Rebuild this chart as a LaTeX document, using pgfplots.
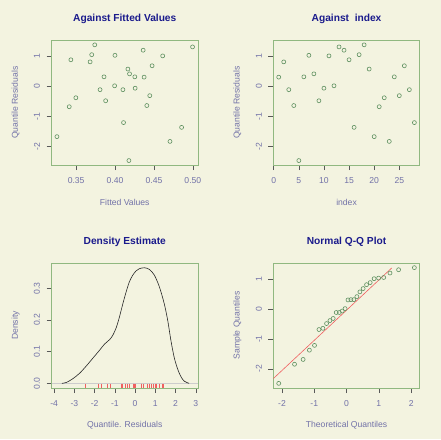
\documentclass[border=0pt]{standalone}
\usepackage{pgfplots}
\pgfplotsset{compat=1.18}
\usepackage{fontspec}
\setmainfont{Liberation Sans}
\definecolor{bgc}{HTML}{F3F3E0}
\definecolor{framec}{HTML}{90B880}
\definecolor{titlec}{HTML}{1A1A8C}
\definecolor{labc}{HTML}{7272A8}
\definecolor{ptc}{HTML}{5F9060}
\definecolor{rugc}{HTML}{F06060}
\pgfplotsset{
  rpanel/.style={
    scale only axis, width=146.5pt, height=125pt, anchor=south west,
    axis line style={framec, line width=0.9pt},
    tick align=outside, major tick length=5pt,
    xtick pos=bottom, ytick pos=left,
    tick style={color=black!65, line width=0.5pt},
    /pgf/number format/assume math mode=true,
    ticklabel style={font=\fontsize{8.6}{10}\selectfont, text=labc},
    xticklabel style={anchor=center}, xticklabel shift=10.5pt,
    yticklabel style={anchor=center, rotate=90}, yticklabel shift=9.5pt,
    label style={font=\fontsize{8.6}{10}\selectfont, text=labc},
    xlabel style={at={(axis description cs:0.5,-0.30)}, anchor=center},
    ylabel style={at={(axis description cs:-0.245,0.5)}, anchor=center},
    title style={at={(axis description cs:0.5,1.12)}, anchor=center,
      font=\fontsize{10.2}{12}\bfseries\selectfont, text=titlec},
    clip=true,
  },
  rpts/.style={only marks, mark=o, mark size=2pt, color=ptc, mark options={draw=ptc, line width=0.6pt}},
}
\begin{document}
\begin{tikzpicture}
\fill[bgc] (0,0) rectangle (441pt,439pt);
\useasboundingbox (0,0) rectangle (441pt,439pt);
% Panel 1
\begin{axis}[rpanel, at={(51.5pt,273.8pt)},
  title={Against Fitted Values}, xlabel={Fitted Values}, ylabel={Quantile Residuals},
  xmin=0.3183, xmax=0.5066, ymin=-2.635, ymax=1.545,
  xtick={0.35,0.40,0.45,0.50}, ytick={-2,-1,0,1},
  xticklabel style={/pgf/number format/.cd, fixed, fixed zerofill, precision=2},
]
\addplot[rpts] coordinates {
(0.3253,-1.68) (0.3432,0.89) (0.3411,-0.68) (0.3496,-0.38) (0.3679,0.82)
(0.3700,1.06) (0.3739,1.39) (0.3858,0.32) (0.3807,-0.11) (0.3879,-0.48)
(0.3999,1.04) (0.3994,0.02) (0.4101,-0.11) (0.4109,-1.21) (0.4165,0.58)
(0.4186,0.42) (0.4178,-2.48) (0.4254,0.32) (0.4258,-0.06) (0.4361,1.21)
(0.4373,0.31) (0.4408,-0.64) (0.4446,-0.31) (0.4476,0.69) (0.4612,1.02)
(0.4706,-1.84) (0.4855,-1.37) (0.4996,1.32)
};
\end{axis}
% Panel 2
\begin{axis}[rpanel, at={(273.3pt,273.8pt)},
  title={Against\ \ index}, xlabel={index}, ylabel={Quantile Residuals},
  xmin=-0.08, xmax=29.08, ymin=-2.635, ymax=1.545,
  xtick={0,5,10,15,20,25}, ytick={-2,-1,0,1},
]
\addplot[rpts] coordinates {
(1,0.31) (2,0.82) (3,-0.11) (4,-0.64) (5,-2.48) (6,0.32) (7,1.04)
(8,0.42) (9,-0.48) (10,-0.06) (11,1.02) (12,0.02) (13,1.32) (14,1.21)
(15,0.89) (16,-1.37) (17,1.06) (18,1.39) (19,0.58) (20,-1.68) (21,-0.68)
(22,-0.38) (23,-1.84) (24,0.32) (25,-0.31) (26,0.69) (27,-0.11) (28,-1.21)
};
\end{axis}
% Panel 3
\begin{axis}[rpanel, at={(51.5pt,51pt)},
  title={Density Estimate}, xlabel={Quantile. Residuals}, ylabel={Density},
  xmin=-4.13, xmax=3.11, ymin=-0.0146, ymax=0.380,
  xtick={-4,-3,-2,-1,0,1,2,3}, ytick={0,0.1,0.2,0.3},
  yticklabel style={/pgf/number format/.cd, fixed, fixed zerofill, precision=1},
]
\addplot[gray!40, line width=0.5pt] coordinates {(-4.13,0) (3.11,0)};
\addplot[only marks, mark=|, mark size=2.2pt, color=rugc, mark options={draw=rugc, line width=0.5pt}] coordinates {
(0.31,-0.008) (0.82,-0.008) (-0.11,-0.008) (-0.64,-0.008) (-2.48,-0.008) (0.32,-0.008) (1.04,-0.008)
(0.42,-0.008) (-0.48,-0.008) (-0.06,-0.008) (1.02,-0.008) (0.02,-0.008) (1.32,-0.008) (1.21,-0.008)
(0.89,-0.008) (-1.37,-0.008) (1.06,-0.008) (1.39,-0.008) (0.58,-0.008) (-1.68,-0.008) (-0.68,-0.008)
(-0.38,-0.008) (-1.84,-0.008) (0.32,-0.008) (-0.31,-0.008) (0.69,-0.008) (-0.11,-0.008) (-1.21,-0.008)
};
\addplot[black!85, line width=0.6pt, smooth] coordinates {
(-3.62,0.000) (-3.39,0.003) (-3.07,0.015) (-2.74,0.032) (-2.41,0.055)
(-2.08,0.080) (-1.75,0.105) (-1.51,0.124) (-1.26,0.138) (-1.10,0.152)
(-0.93,0.176) (-0.77,0.210) (-0.61,0.250) (-0.44,0.289) (-0.28,0.321)
(-0.11,0.342) (0.05,0.355) (0.21,0.362) (0.46,0.365) (0.70,0.360)
(0.95,0.342) (1.20,0.305) (1.44,0.252) (1.61,0.200) (1.77,0.136)
(1.93,0.083) (2.10,0.046) (2.26,0.022) (2.43,0.007) (2.67,0.000)
};
\end{axis}
% Panel 4
\begin{axis}[rpanel, at={(273.3pt,51pt)},
  title={Normal Q-Q Plot}, xlabel={Theoretical Quantiles}, ylabel={Sample Quantiles},
  xmin=-2.268, xmax=2.268, ymin=-2.635, ymax=1.545,
  xtick={-2,-1,0,1,2}, ytick={-2,-1,0,1},
]
\addplot[rugc, line width=0.6pt] coordinates {(-2.268,-2.32) (1.40,1.38)};
\addplot[rpts] coordinates {
(-2.100,-2.48) (-1.611,-1.84) (-1.345,-1.68) (-1.150,-1.37) (-0.992,-1.21)
(-0.854,-0.68) (-0.732,-0.64) (-0.619,-0.48) (-0.514,-0.38) (-0.414,-0.31)
(-0.319,-0.11) (-0.225,-0.11) (-0.135,-0.06) (-0.045,0.02) (0.045,0.31)
(0.135,0.32) (0.225,0.32) (0.319,0.42) (0.414,0.58) (0.514,0.69)
(0.619,0.82) (0.732,0.89) (0.854,1.02) (0.992,1.04) (1.150,1.06)
(1.345,1.21) (1.611,1.32) (2.100,1.39)
};
\end{axis}
\end{tikzpicture}
\end{document}
